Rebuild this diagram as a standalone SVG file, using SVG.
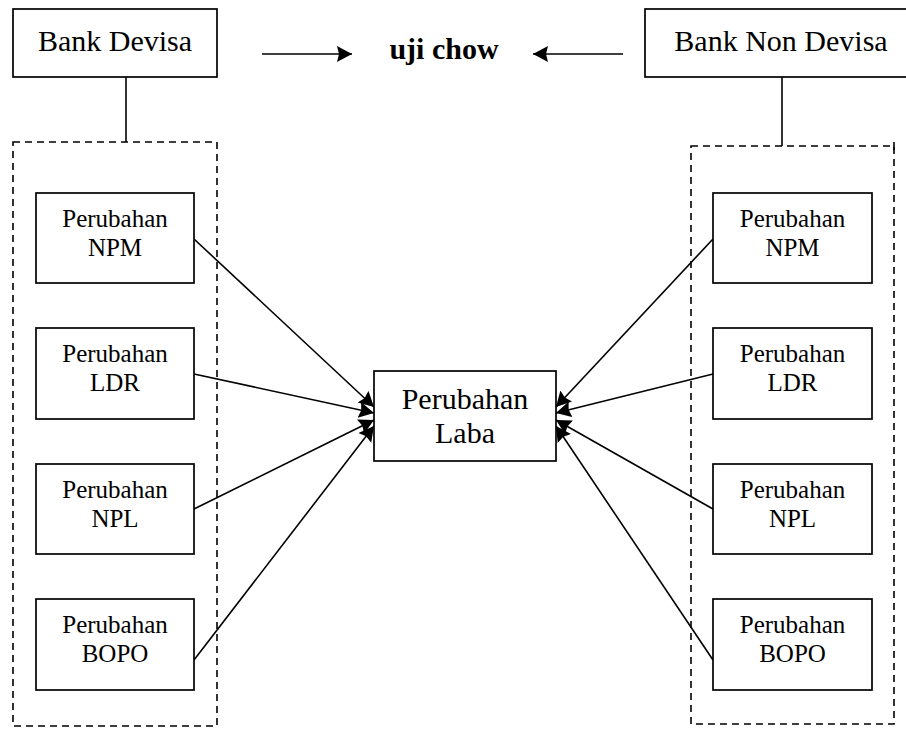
<svg xmlns="http://www.w3.org/2000/svg" width="906" height="729" viewBox="0 0 906 729">
  <defs>
    <style>
      .box { fill: #fff; stroke: #000; stroke-width: 1.7; }
      .group { fill: none; stroke: #000; stroke-width: 1.6; stroke-dasharray: 7 5; }
      .link { fill: none; stroke: #000; stroke-width: 1.6; }
      .arrow { fill: none; stroke: #000; stroke-width: 1.6; marker-end: url(#head); }
      .t { font-family: "Liberation Serif", "Times New Roman", serif; fill: #000; text-anchor: middle; }
      .big { font-size: 30px; }
      .small { font-size: 25px; }
      .bold { font-weight: bold; }
    </style>
    <marker id="head" markerUnits="userSpaceOnUse" markerWidth="18" markerHeight="18" refX="15" refY="8" orient="auto">
      <path d="M0,0 L15,8 L0,16 L2,8 z" fill="#000"/>
    </marker>
  </defs>

  <!-- dashed grouping frames -->
  <g id="frames">
    <rect class="group" x="13" y="142" width="204" height="584"/>
    <rect class="group" x="691" y="146" width="203" height="578"/>
    <line class="link" x1="894" y1="142" x2="894" y2="150"/>
  </g>

  <!-- connectors -->
  <g id="connectors">
    <line class="link" x1="126" y1="77" x2="126" y2="142"/>
    <line class="link" x1="782" y1="74" x2="782" y2="146"/>
    <line class="arrow" x1="262" y1="54" x2="352" y2="54"/>
    <line class="arrow" x1="623" y1="54" x2="533" y2="54"/>
    <line class="arrow" x1="194" y1="239" x2="374" y2="407"/>
    <line class="arrow" x1="194" y1="374" x2="374" y2="413"/>
    <line class="arrow" x1="194" y1="509" x2="374" y2="420"/>
    <line class="arrow" x1="194" y1="660" x2="374" y2="426"/>
    <line class="arrow" x1="713" y1="239" x2="556" y2="407"/>
    <line class="arrow" x1="713" y1="374" x2="556" y2="413"/>
    <line class="arrow" x1="713" y1="509" x2="556" y2="420"/>
    <line class="arrow" x1="713" y1="660" x2="556" y2="426"/>
  </g>

  <g id="bank-devisa">
    <rect class="box" x="13" y="9" width="204" height="68"/>
    <text class="t big" x="115" y="51">Bank Devisa</text>
  </g>

  <g id="uji-chow">
    <text class="t big bold" x="444" y="59">uji chow</text>
  </g>

  <g id="bank-non-devisa">
    <rect class="box" x="645" y="9" width="264" height="68"/>
    <text class="t big" x="781" y="51">Bank Non Devisa</text>
  </g>

  <g id="perubahan-laba">
    <rect class="box" x="374" y="371" width="182" height="90"/>
    <text class="t big" x="465" y="409">Perubahan</text>
    <text class="t big" x="465" y="443">Laba</text>
  </g>

  <!-- Bank Devisa variables -->
  <g id="devisa-npm">
    <rect class="box" x="36" y="193" width="158" height="90"/>
    <text class="t small" x="115" y="227">Perubahan</text>
    <text class="t small" x="115" y="256">NPM</text>
  </g>
  <g id="devisa-ldr">
    <rect class="box" x="36" y="328" width="158" height="91"/>
    <text class="t small" x="115" y="362">Perubahan</text>
    <text class="t small" x="115" y="391">LDR</text>
  </g>
  <g id="devisa-npl">
    <rect class="box" x="36" y="464" width="158" height="90"/>
    <text class="t small" x="115" y="498">Perubahan</text>
    <text class="t small" x="115" y="527">NPL</text>
  </g>
  <g id="devisa-bopo">
    <rect class="box" x="36" y="599" width="158" height="91"/>
    <text class="t small" x="115" y="633">Perubahan</text>
    <text class="t small" x="115" y="662">BOPO</text>
  </g>

  <!-- Bank Non Devisa variables -->
  <g id="nondevisa-npm">
    <rect class="box" x="713" y="193" width="159" height="90"/>
    <text class="t small" x="792.5" y="227">Perubahan</text>
    <text class="t small" x="792.5" y="256">NPM</text>
  </g>
  <g id="nondevisa-ldr">
    <rect class="box" x="713" y="328" width="159" height="91"/>
    <text class="t small" x="792.5" y="362">Perubahan</text>
    <text class="t small" x="792.5" y="391">LDR</text>
  </g>
  <g id="nondevisa-npl">
    <rect class="box" x="713" y="464" width="159" height="90"/>
    <text class="t small" x="792.5" y="498">Perubahan</text>
    <text class="t small" x="792.5" y="527">NPL</text>
  </g>
  <g id="nondevisa-bopo">
    <rect class="box" x="713" y="599" width="159" height="91"/>
    <text class="t small" x="792.5" y="633">Perubahan</text>
    <text class="t small" x="792.5" y="662">BOPO</text>
  </g>
</svg>
